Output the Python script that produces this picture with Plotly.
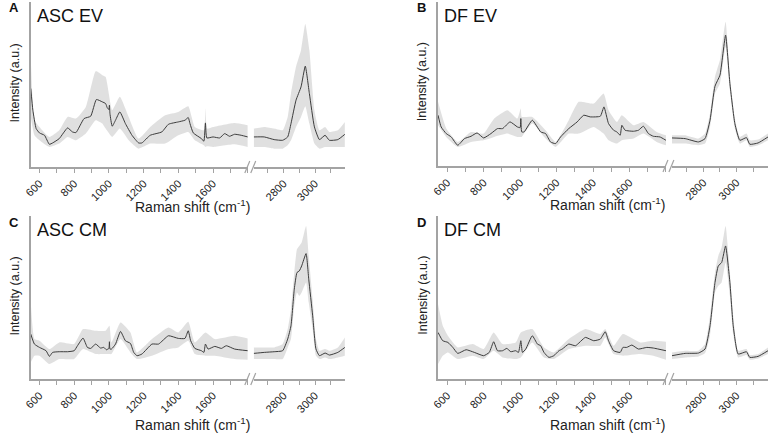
import plotly.graph_objects as go

W, H = 770, 433

# ---------------- DATA (intensity in arbitrary units) ----------------
# Panel A: ASC EV
A_left_x = [550, 562, 581, 600, 629, 657, 676, 714, 762, 790, 810, 857, 895, 928, 962, 981, 990, 1000, 1003, 1006,
            1019, 1038, 1063, 1095, 1133, 1171, 1190, 1238, 1305, 1343, 1400, 1438, 1457, 1467, 1486, 1533, 1547,
            1556, 1564, 1600, 1638, 1667, 1695, 1724, 1762, 1800]
A_left_y = [235, 170, 115, 102, 95, 68, 72, 85, 117, 105, 103, 145, 152, 202, 195, 190, 178, 172, 185, 160,
            122, 140, 165, 130, 95, 72, 72, 95, 105, 128, 135, 140, 148, 130, 102, 85, 77,
            132, 87, 90, 87, 100, 92, 98, 95, 90]
A_band_left_x = [550, 571, 600, 657, 714, 762, 810, 867, 924, 962, 981, 1019, 1063, 1114, 1171, 1238, 1324, 1400,
                 1457, 1495, 1547, 1556, 1566, 1600, 1724, 1800]
A_band_left_up = [325, 140, 120, 90, 110, 150, 145, 180, 287, 275, 270, 170, 210, 150, 85, 120, 155, 165,
                  182, 120, 110, 175, 115, 120, 132, 125]
A_band_left_lo = [150, 95, 80, 60, 70, 90, 80, 100, 140, 130, 115, 90, 115, 80, 55, 70, 70, 95,
                  105, 80, 65, 60, 62, 60, 68, 60]
A_right_x = [2610, 2677, 2740, 2794, 2826, 2847, 2879, 2911, 2938, 2964, 2996, 3028, 3064, 3091, 3145, 3190]
A_right_y = [90, 90, 82, 80, 90, 130, 200, 240, 302, 220, 120, 82, 95, 80, 82, 98]
A_right_up = [115, 120, 115, 110, 150, 220, 300, 350, 428, 350, 170, 110, 120, 105, 110, 135]
A_right_lo = [60, 60, 55, 55, 65, 80, 120, 150, 182, 130, 70, 55, 60, 60, 60, 60]

# Panel B: DF EV
B_left_x = [550, 567, 595, 622, 658, 695, 731, 764, 800, 840, 876, 904, 945, 985, 1000, 1004, 1009, 1022, 1067,
            1113, 1140, 1167, 1195, 1222, 1267, 1313, 1349, 1385, 1440, 1460, 1485, 1513, 1531, 1549, 1558,
            1576, 1622, 1649, 1676, 1704, 1731, 1767, 1800]
B_left_y = [155, 120, 100, 90, 65, 85, 92, 102, 87, 100, 115, 115, 135, 120, 118, 145, 105, 105, 140,
            105, 100, 75, 70, 90, 115, 135, 155, 150, 152, 180, 130, 110, 105, 95, 125,
            110, 107, 110, 122, 100, 92, 90, 80]
B_band_left_x = [550, 595, 658, 731, 800, 858, 931, 985, 1004, 1009, 1067, 1140, 1195, 1267, 1322, 1404, 1458,
                 1485, 1531, 1558, 1622, 1676, 1749, 1800]
B_band_left_up = [195, 115, 75, 105, 100, 145, 170, 145, 175, 150, 150, 110, 75, 140, 195, 190, 220,
                  170, 135, 155, 125, 135, 105, 95]
B_band_left_lo = [125, 90, 60, 75, 80, 90, 100, 90, 90, 90, 130, 85, 60, 100, 100, 120, 100,
                  80, 70, 80, 85, 100, 75, 65]
B_right_x = [2610, 2690, 2770, 2810, 2840, 2870, 2900, 2934, 2960, 2990, 3020, 3060, 3080, 3130, 3190]
B_right_y = [87, 85, 75, 85, 140, 242, 275, 395, 250, 130, 80, 88, 68, 72, 90]
B_right_up = [95, 95, 85, 100, 160, 270, 320, 435, 270, 145, 90, 100, 80, 82, 100]
B_right_lo = [70, 70, 65, 70, 120, 220, 250, 360, 230, 115, 70, 80, 60, 65, 80]

# Panel C: ASC CM
C_left_x = [550, 571, 600, 638, 657, 676, 714, 762, 800, 819, 851, 876, 895, 924, 952, 971, 985, 1000, 1003, 1006,
            1015, 1038, 1067, 1095, 1124, 1143, 1162, 1190, 1248, 1286, 1343, 1400, 1438, 1457, 1471, 1495,
            1533, 1547, 1556, 1571, 1610, 1648, 1676, 1724, 1800]
C_left_y = [135, 105, 95, 85, 68, 80, 82, 82, 85, 100, 123, 95, 92, 105, 93, 95, 88, 92, 112, 90,
            90, 105, 143, 115, 107, 80, 70, 75, 105, 105, 130, 122, 122, 145, 115, 92,
            85, 80, 105, 90, 98, 92, 100, 90, 85]
C_band_left_x = [550, 571, 600, 657, 714, 800, 851, 924, 981, 1003, 1015, 1067, 1124, 1162, 1248, 1343, 1400,
                 1457, 1495, 1556, 1610, 1724, 1800]
C_band_left_up = [230, 120, 115, 90, 110, 105, 150, 145, 145, 160, 110, 170, 140, 80, 120, 155, 140,
                  172, 110, 140, 120, 130, 122]
C_band_left_lo = [50, 70, 70, 45, 60, 60, 90, 75, 75, 75, 75, 120, 80, 60, 70, 90, 95,
                  115, 75, 70, 70, 60, 58]
C_right_x = [2610, 2677, 2740, 2794, 2826, 2847, 2868, 2885, 2900, 2915, 2943, 2960, 2985, 3006, 3028, 3064,
             3092, 3145, 3190]
C_right_y = [77, 80, 82, 85, 120, 160, 270, 320, 325, 340, 377, 300, 190, 90, 70, 78, 72, 80, 95]
C_right_up = [95, 95, 95, 105, 150, 210, 320, 390, 400, 410, 460, 370, 240, 120, 85, 90, 85, 95, 125]
C_right_lo = [60, 60, 60, 60, 95, 120, 220, 260, 250, 260, 290, 230, 150, 70, 60, 65, 60, 65, 70]

# Panel D: DF CM
D_left_x = [550, 576, 604, 631, 658, 704, 749, 800, 831, 855, 876, 904, 927, 949, 976, 991, 1004, 1013, 1031,
            1067, 1095, 1113, 1131, 1158, 1185, 1213, 1231, 1267, 1304, 1358, 1404, 1440, 1467, 1485, 1513,
            1549, 1564, 1585, 1613, 1649, 1695, 1731, 1800]
D_left_y = [140, 115, 110, 95, 77, 88, 80, 70, 80, 112, 85, 85, 92, 82, 85, 80, 115, 80, 90,
            130, 105, 100, 80, 65, 70, 85, 90, 105, 100, 125, 115, 120, 142, 115, 85,
            80, 95, 95, 102, 90, 95, 93, 85]
D_band_left_x = [550, 576, 604, 658, 740, 800, 855, 904, 976, 1004, 1067, 1131, 1185, 1267, 1358, 1440, 1467,
                 1513, 1564, 1658, 1731, 1800]
D_band_left_up = [225, 160, 130, 95, 105, 90, 140, 105, 110, 140, 150, 95, 80, 120, 150, 135, 150,
                  100, 135, 110, 115, 112]
D_band_left_lo = [45, 70, 80, 60, 70, 60, 85, 65, 60, 65, 110, 65, 60, 90, 100, 100, 125,
                  75, 70, 75, 70, 58]
D_right_x = [2610, 2690, 2770, 2810, 2840, 2870, 2890, 2910, 2934, 2960, 2980, 3010, 3060, 3080, 3130, 3190]
D_right_y = [70, 77, 78, 90, 160, 290, 340, 350, 400, 290, 160, 75, 82, 65, 68, 85]
D_right_up = [80, 85, 85, 105, 190, 320, 370, 395, 460, 320, 190, 85, 90, 72, 75, 95]
D_right_lo = [60, 65, 68, 78, 130, 260, 280, 290, 350, 250, 135, 65, 72, 58, 62, 75]

left_ticks = [600, 800, 1000, 1200, 1400, 1600]
right_ticks = [2800, 3000]

# ---------------- LAYOUT ----------------
LINE = "#3c3c3c"
BAND = "rgba(212,212,212,0.72)"
AXC = "#a3a3a3"
TXT = "#222222"
SMOOTH = 0.45


def px(x):
    return x / W


def py(y):
    return 1 - y / H


panels = [
    dict(letter="A", name="ASC EV", ax0=24, lseg=(24, 243), rseg=(249, 341), top=2, bot=167, yr=[0, 494],
         lx=A_left_x, ly=A_left_y, blx=A_band_left_x, blu=A_band_left_up, bll=A_band_left_lo,
         rx=A_right_x, ry=A_right_y, ru=A_right_up, rl=A_right_lo, xt=206),
    dict(letter="B", name="DF EV", ax0=435, lseg=(435, 665), rseg=(671, 768), top=2, bot=166, yr=[3, 494],
         lx=B_left_x, ly=B_left_y, blx=B_band_left_x, blu=B_band_left_up, bll=B_band_left_lo,
         rx=B_right_x, ry=B_right_y, ru=B_right_up, rl=B_right_lo, xt=204),
    dict(letter="C", name="ASC CM", ax0=24, lseg=(24, 243), rseg=(249, 341), top=216, bot=379, yr=[0, 490],
         lx=C_left_x, ly=C_left_y, blx=C_band_left_x, blu=C_band_left_up, bll=C_band_left_lo,
         rx=C_right_x, ry=C_right_y, ru=C_right_up, rl=C_right_lo, xt=424),
    dict(letter="D", name="DF CM", ax0=435, lseg=(435, 665), rseg=(671, 768), top=216, bot=379, yr=[0, 490],
         lx=D_left_x, ly=D_left_y, blx=D_band_left_x, blu=D_band_left_up, bll=D_band_left_lo,
         rx=D_right_x, ry=D_right_y, ru=D_right_up, rl=D_right_lo, xt=424),
]

fig = go.Figure()
layout = {}
annotations = []
shapes = []

for i, p in enumerate(panels):
    xl = 2 * i + 1
    xr = 2 * i + 2
    yi = i + 1
    xl_name = "x" if xl == 1 else f"x{xl}"
    xr_name = f"x{xr}"
    y_name = "y" if yi == 1 else f"y{yi}"

    def band(xs, up, lo, xa):
        fig.add_trace(go.Scatter(x=xs, y=lo, mode="lines",
                                 line=dict(width=0, color=BAND, shape="spline", smoothing=SMOOTH),
                                 xaxis=xa, yaxis=y_name, showlegend=False, hoverinfo="skip"))
        fig.add_trace(go.Scatter(x=xs, y=up, mode="lines",
                                 line=dict(width=0, color=BAND, shape="spline", smoothing=SMOOTH),
                                 fill="tonexty", fillcolor=BAND,
                                 xaxis=xa, yaxis=y_name, showlegend=False, hoverinfo="skip"))

    band(p["blx"], p["blu"], p["bll"], xl_name)
    band(p["rx"], p["ru"], p["rl"], xr_name)
    fig.add_trace(go.Scatter(x=p["lx"], y=p["ly"], mode="lines",
                             line=dict(color=LINE, width=1, shape="spline", smoothing=SMOOTH),
                             xaxis=xl_name, yaxis=y_name, showlegend=False))
    fig.add_trace(go.Scatter(x=p["rx"], y=p["ry"], mode="lines",
                             line=dict(color=LINE, width=1, shape="spline", smoothing=SMOOTH),
                             xaxis=xr_name, yaxis=y_name, showlegend=False))

    common = dict(showline=True, linecolor=AXC, linewidth=1.5, ticks="outside", ticklen=4,
                  tickcolor=AXC, tickwidth=1, tickangle=-45, showgrid=False, zeroline=False,
                  tickfont=dict(family="Liberation Sans, Arial", size=11, color=TXT), anchor=y_name,
                  fixedrange=True)
    minor = dict(dtick=100, tick0=0, ticks="outside", ticklen=4, tickcolor=AXC, tickwidth=1, showgrid=False)
    layout["xaxis" if xl == 1 else f"xaxis{xl}"] = dict(
        domain=[px(p["lseg"][0]), px(p["lseg"][1])], range=[550, 1800],
        tickvals=left_ticks, minor=minor, **common)
    layout[f"xaxis{xr}"] = dict(
        domain=[px(p["rseg"][0]), px(p["rseg"][1])], range=[2610, 3190],
        tickvals=right_ticks, minor=minor, **common)
    layout["yaxis" if yi == 1 else f"yaxis{yi}"] = dict(
        domain=[py(p["bot"]), py(p["top"])], range=p["yr"], anchor=xl_name,
        showline=True, linecolor=AXC, linewidth=1.5, showticklabels=False, ticks="",
        showgrid=False, zeroline=False, fixedrange=True)

    # break marks
    bx = p["lseg"][1]
    for dx in (-3, 3):
        shapes.append(dict(type="line", xref="paper", yref="paper",
                           x0=px(bx + dx), y0=py(p["bot"] + 6), x1=px(bx + dx + 5), y1=py(p["bot"] - 6),
                           line=dict(color=AXC, width=1.2)))

    # texts
    annotations.append(dict(text=p["letter"], x=px(p["ax0"] - 17), y=py(p["top"] + 6), xref="paper",
                            yref="paper", showarrow=False, xanchor="center", yanchor="middle",
                            font=dict(family="Liberation Sans, Arial", size=13, color="#111", weight="bold")))
    annotations.append(dict(text=p["name"], x=px(p["ax0"] + 4), y=py(p["top"] + 14), xref="paper",
                            yref="paper", showarrow=False, xanchor="left", yanchor="middle",
                            font=dict(family="Liberation Sans, Arial", size=18, color="#111")))
    annotations.append(dict(text="Intensity (a.u.)", x=px(p["ax0"] - 16), y=py((p["top"] + p["bot"]) / 2 - 2),
                            xref="paper", yref="paper", showarrow=False, textangle=-90,
                            xanchor="center", yanchor="middle",
                            font=dict(family="Liberation Sans, Arial", size=12.5, color=TXT)))
    annotations.append(dict(text="Raman shift (cm<sup>-1</sup>)",
                            x=px((p["lseg"][0] + p["rseg"][1]) / 2 + 5), y=py(p["xt"]),
                            xref="paper", yref="paper", showarrow=False, xanchor="center", yanchor="middle",
                            font=dict(family="Liberation Sans, Arial", size=14, color=TXT)))

fig.update_layout(width=W, height=H, margin=dict(l=0, r=0, t=0, b=0), paper_bgcolor="white",
                  plot_bgcolor="white", annotations=annotations, shapes=shapes, **layout)

fig.write_html("out.html", config={"displayModeBar": False},
               post_script="document.body.style.margin='0px';document.body.style.overflow='hidden';")
